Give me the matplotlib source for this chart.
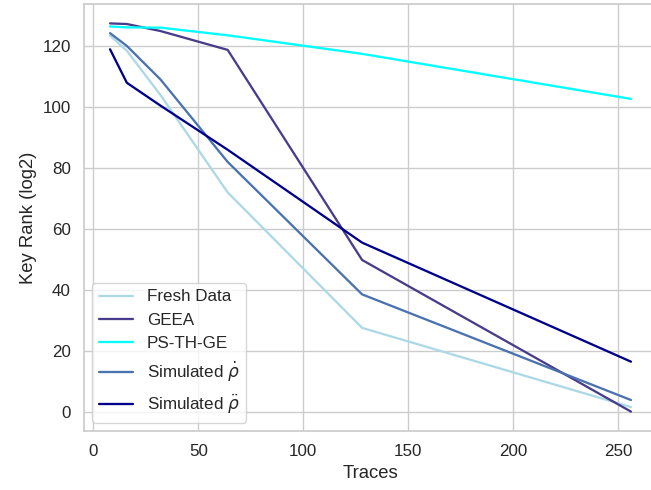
import numpy as np
import matplotlib
matplotlib.use("Agg")
import matplotlib.pyplot as plt
import seaborn as sns

traces = [8, 16, 32, 64, 128, 256]
fresh_data = [123.5, 118.5, 104, 72, 27.5, 1.5]
geea = [127.5, 127.3, 125, 118.8, 49.8, 0]
ps_th_ge = [126.5, 126.2, 126.1, 123.6, 117.5, 102.7]
sim_rho_dot = [124.3, 120.1, 109.1, 82, 38.5, 3.8]
sim_rho_ddot = [119, 108, 100.5, 86, 55.5, 16.4]

series = [
    ("Fresh Data", fresh_data, "lightblue"),
    ("GEEA", geea, "darkslateblue"),
    ("PS-TH-GE", ps_th_ge, "cyan"),
    (r"Simulated $\dot{\rho}$", sim_rho_dot, "#4a72b0"),
    (r"Simulated $\ddot{\rho}$", sim_rho_ddot, "darkblue"),
]

sns.set_theme(style="whitegrid", font_scale=1.11)
plt.rcParams["font.family"] = ["Liberation Sans", "DejaVu Sans"]
plt.rcParams["mathtext.fontset"] = "dejavusans"
plt.rcParams["lines.linewidth"] = 1.65

fig = plt.figure(figsize=(6.51, 4.9), dpi=100)
ax = fig.add_axes([84 / 651, 1 - 431 / 490, (657 - 84) / 651, (431 - 4) / 490])

for label, ys, color in series:
    ax.plot(traces, ys, label=label, color=color)

ax.set_xlabel("Traces")
ax.set_ylabel("Key Rank (log2)")
ax.legend(loc="lower left")

fig.savefig("out.png", dpi=100)
